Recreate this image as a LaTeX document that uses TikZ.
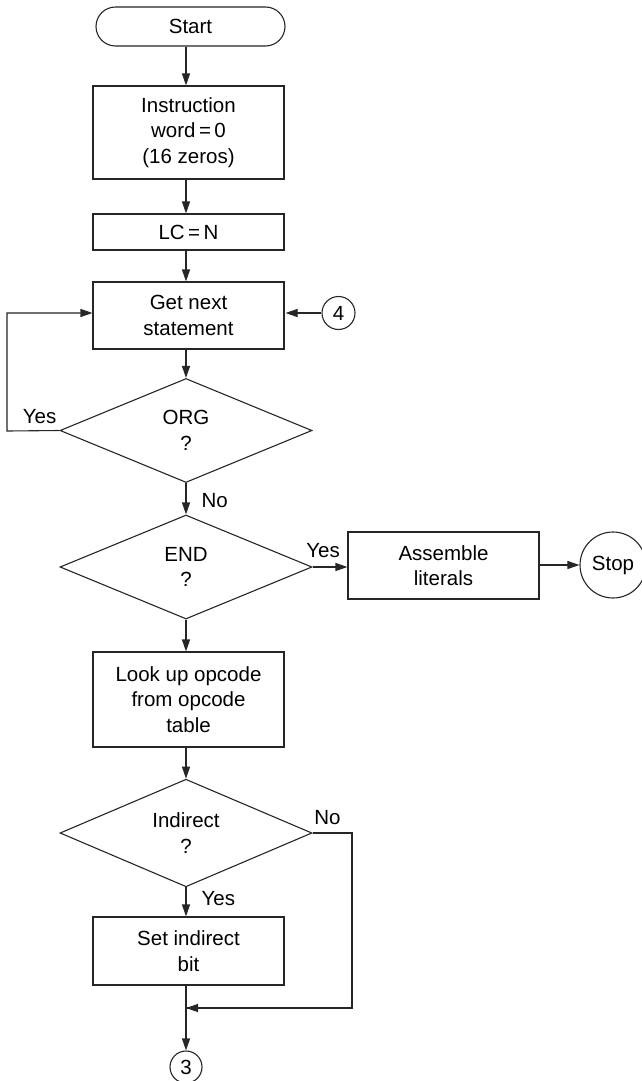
\documentclass[tikz,border=0pt]{standalone}
\usepackage{fontspec}
\setmainfont{Liberation Sans}
\usetikzlibrary{shapes.geometric,shapes.misc,arrows.meta}
\begin{document}
\begin{tikzpicture}[x=1pt,y=-1pt,
  every node/.style={font=\fontsize{20.5}{25.5}\selectfont, align=center, inner sep=0pt},
  line/.style={line width=1.1pt, draw=black!85},
  arr/.style={line, -{Triangle[length=12pt,width=8pt]}},
  procbox/.style={draw=black!85, line width=1.1pt, minimum width=191pt},
  decide/.style={diamond, draw=black!85, line width=1.1pt, minimum width=252pt, minimum height=104pt},
  term/.style={rounded rectangle, draw=black!85, line width=1.1pt, minimum width=189pt, minimum height=39pt},
  conn/.style={circle, draw=black!85, line width=1.1pt},
  lbl/.style={font=\fontsize{20.5}{25.5}\selectfont}
]
\useasboundingbox (0,0) rectangle (641,1081);
\fill[white] (0,0) rectangle (641,1081);

\node[term] (start) at (190.5,26.5) {Start};
\node[procbox, minimum height=93pt] (init) at (188.5,132.5) {Instruction\\word\,=\,0\\(16 zeros)};
\node[procbox, minimum height=36pt] (lc) at (188.5,232) {LC\,=\,N};
\node[procbox, minimum height=67pt] (get) at (188.5,315.5) {Get next\\statement};
\node[conn, minimum size=33pt] (c4) at (338.5,313) {4};
\node[decide] (org) at (186,430.5) {ORG\\?};
\node[decide] (end) at (186,567) {END\\?};
\node[procbox, minimum height=67pt] (asm) at (443.5,565.5) {Assemble\\literals};
\node[conn, minimum size=66pt] (stop) at (613,565) {Stop};
\node[procbox, minimum height=95pt] (look) at (188.5,699.5) {Look up opcode\\from opcode\\table};
\node[decide] (ind) at (186,833) {Indirect\\?};
\node[procbox, minimum height=68pt] (set) at (188.5,951) {Set indirect\\bit};
\node[conn, minimum size=32pt] (c3) at (186,1067) {3};

\coordinate (orgL) at (7,431);
\coordinate (orgT) at (7,313);
\coordinate (indR) at (352,833);
\coordinate (indB) at (352,1008);
\coordinate (join) at (186,1008);

\draw[arr] (start.south -| 186,0) -- (init.north -| 186,0);
\draw[arr] (init.south -| 186,0) -- (lc.north -| 186,0);
\draw[arr] (lc.south -| 186,0) -- (get.north -| 186,0);
\draw[arr] (get.south -| 186,0) -- (org.north);
\draw[arr] (org.south) -- node[lbl, right=15pt, pos=0.55] {No} (end.north);
\draw[arr] (end.south) -- (look.north -| 186,0);
\draw[arr] (look.south -| 186,0) -- (ind.north);
\draw[arr] (ind.south) -- node[lbl, right=15pt, pos=0.4] {Yes} (set.north -| 186,0);
\draw[arr] (set.south -| 186,0) -- (c3.north);
\draw[line] (ind.east) -- node[lbl, above=8pt, pos=0.38] {No} (indR) -- (indB) -- (join);
\draw[arr] (indB) -- (join);
\draw[arr] (org.west) -- node[lbl, above=6pt, pos=0.38] {Yes} (orgL) -- (orgT) -- (get.west |- orgT);
\draw[arr] (c4.west) -- ([xshift=1pt]get.east |- c4.west);
\draw[arr] (end.east) -- node[lbl, above=9pt, pos=0.3] {Yes} (asm.west |- end.east);
\draw[arr] (asm.east |- stop.west) -- (stop.west);
\end{tikzpicture}
\end{document}
